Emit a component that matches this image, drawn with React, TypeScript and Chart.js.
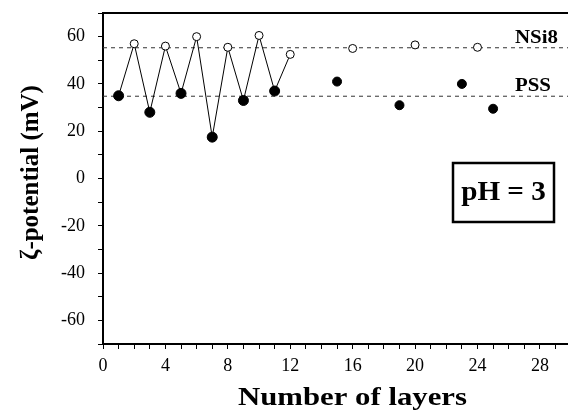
import React, { useEffect, useRef } from "react";
import { Chart, registerables } from "chart.js";

Chart.register(...registerables);

// Data
const pssLayers = [1, 3, 5, 7, 9, 11, 15, 19, 23, 25];
const pssZeta = [35, 28, 36, 17.5, 33, 37, 41, 31, 40, 29.5];
const nsiLayers = [2, 4, 6, 8, 10, 12, 16, 20, 24];
const nsiZeta = [57, 56, 60, 55.5, 60.5, 52.5, 55, 56.5, 55.5];
const connectedUpTo = 12;
const nsiLevel = 55.3;
const pssLevel = 34.8;
const xMin = 0;
const xMax = 29.8;
const yMin = -70;
const yMax = 70;
const xLabelEvery = 4;
const yLabelEvery = 20;
const seriesLabels = [
  { text: "NSi8", x: 26.4, y: 59.3 },
  { text: "PSS", x: 26.4, y: 39.0 },
];
const xTitle = "Number of layers";
const yTitle = "ζ-potential (mV)";
const boxText = "pH = 3";

const SERIF = "'Liberation Serif', 'Times New Roman', serif";

export default function App() {
  const ref = useRef<HTMLCanvasElement | null>(null);

  useEffect(() => {
    document.body.style.margin = "0";
    const canvas = ref.current;
    if (!canvas) return;

    const zig: { x: number; y: number }[] = [];
    pssLayers.forEach((x, i) => {
      if (x <= connectedUpTo) zig.push({ x, y: pssZeta[i] });
    });
    nsiLayers.forEach((x, i) => {
      if (x <= connectedUpTo) zig.push({ x, y: nsiZeta[i] });
    });
    zig.sort((a, b) => a.x - b.x);

    const overlay = {
      id: "overlay",
      afterDraw(chart: any) {
        const ctx = chart.ctx;
        const { left, right, top, bottom } = chart.chartArea;
        const xs = chart.scales.x;
        const ys = chart.scales.y;
        ctx.save();
        // top frame line
        ctx.strokeStyle = "#000";
        ctx.lineWidth = 2;
        ctx.beginPath();
        ctx.moveTo(left - 1, top);
        ctx.lineTo(right, top);
        ctx.stroke();

        // series labels
        ctx.fillStyle = "#000";
        ctx.font = `bold 19px ${SERIF}`;
        ctx.textAlign = "left";
        ctx.textBaseline = "middle";
        seriesLabels.forEach((l) => {
          ctx.save();
          ctx.translate(xs.getPixelForValue(l.x), ys.getPixelForValue(l.y));
          ctx.scale(1.1, 1);
          ctx.fillText(l.text, 0, 0);
          ctx.restore();
        });

        // x title (slightly wide bold serif)
        ctx.save();
        ctx.font = `bold 25px ${SERIF}`;
        const w = ctx.measureText(xTitle).width;
        const sx = 229 / w;
        ctx.translate(352.5, 405);
        ctx.scale(sx, 1);
        ctx.textAlign = "center";
        ctx.textBaseline = "alphabetic";
        ctx.fillText(xTitle, 0, 0);
        ctx.restore();

        // y title
        ctx.save();
        ctx.font = `bold 25px ${SERIF}`;
        ctx.translate(38, (top + bottom) / 2 - 6);
        ctx.rotate(-Math.PI / 2);
        ctx.textAlign = "center";
        ctx.textBaseline = "alphabetic";
        ctx.fillText(yTitle, 0, 0);
        ctx.restore();

        // pH box
        const bx = 453, by = 163, bw = 101, bh = 59;
        ctx.lineWidth = 2.5;
        ctx.strokeRect(bx, by, bw, bh);
        ctx.save();
        ctx.font = `bold 27px ${SERIF}`;
        ctx.translate(bx + bw / 2, by + bh / 2 + 1);
        ctx.scale(1.08, 1);
        ctx.textAlign = "center";
        ctx.textBaseline = "middle";
        ctx.fillText(boxText, 0, 0);
        ctx.restore();
        ctx.restore();
      },
    };

    const chart = new Chart(canvas, {
      type: "scatter",
      data: {
        datasets: [
          {
            data: [
              { x: xMin, y: nsiLevel },
              { x: xMax, y: nsiLevel },
            ],
            showLine: true,
            borderColor: "#333",
            borderWidth: 1,
            borderDash: [4, 4],
            pointRadius: 0,
            order: 5,
          },
          {
            data: [
              { x: xMin, y: pssLevel },
              { x: xMax, y: pssLevel },
            ],
            showLine: true,
            borderColor: "#333",
            borderWidth: 1,
            borderDash: [4, 4],
            pointRadius: 0,
            order: 5,
          },
          {
            data: zig,
            showLine: true,
            borderColor: "#000",
            borderWidth: 1,
            pointRadius: 0,
            order: 4,
          },
          {
            data: pssLayers.map((x, i) => ({ x, y: pssZeta[i] })),
            pointRadius: pssLayers.map((x) => (x <= connectedUpTo ? 5 : 4.5)),
            pointBackgroundColor: "#000",
            pointBorderColor: "#000",
            pointBorderWidth: 1,
            order: 1,
          },
          {
            data: nsiLayers.map((x, i) => ({ x, y: nsiZeta[i] })),
            pointRadius: 4,
            pointBackgroundColor: "#fff",
            pointBorderColor: "#000",
            pointBorderWidth: 1,
            order: 1,
          },
        ],
      },
      options: {
        animation: false,
        responsive: false,
        maintainAspectRatio: false,
        layout: { autoPadding: false, padding: { left: 0, top: 13, right: 0, bottom: 0 } },
        plugins: {
          legend: { display: false },
          tooltip: { enabled: false },
        },
        scales: {
          x: {
            type: "linear",
            min: xMin,
            max: xMax,
            afterFit: (s: any) => {
              s.height = 72;
              s.paddingLeft = 0;
              s.paddingRight = 0;
            },
            afterBuildTicks: (s: any) => {
              const t = [];
              for (let v = Math.ceil(xMin); v <= xMax; v++) t.push({ value: v });
              s.ticks = t;
            },
            ticks: {
              autoSkip: false,
              maxRotation: 0,
              padding: 6,
              color: "#000",
              font: { family: SERIF, size: 18 },
              callback: (v: any) => (Number(v) % xLabelEvery === 0 ? String(v) : ""),
            },
            grid: {
              display: true,
              drawOnChartArea: false,
              tickLength: 5,
              color: "#000",
              tickWidth: 1,
            },
            border: { display: true, color: "#000", width: 2 },
          },
          y: {
            type: "linear",
            min: yMin,
            max: yMax,
            afterFit: (s: any) => {
              s.width = 103;
              s.paddingTop = 0;
              s.paddingBottom = 0;
            },
            ticks: {
              stepSize: 10,
              autoSkip: false,
              padding: 13,
              color: "#000",
              font: { family: SERIF, size: 18 },
              callback: (v: any) =>
                Number(v) % yLabelEvery === 0 && Math.abs(Number(v)) < yMax ? String(v) : "",
            },
            grid: {
              display: true,
              drawOnChartArea: false,
              tickLength: 5,
              color: "#000",
              tickWidth: 1,
            },
            border: { display: true, color: "#000", width: 2 },
          },
        },
      },
      plugins: [overlay],
    });

    return () => chart.destroy();
  }, []);

  return (
    <div style={{ width: 568, height: 416 }}>
      <canvas ref={ref} width={568} height={416} style={{ display: "block" }} />
    </div>
  );
}
